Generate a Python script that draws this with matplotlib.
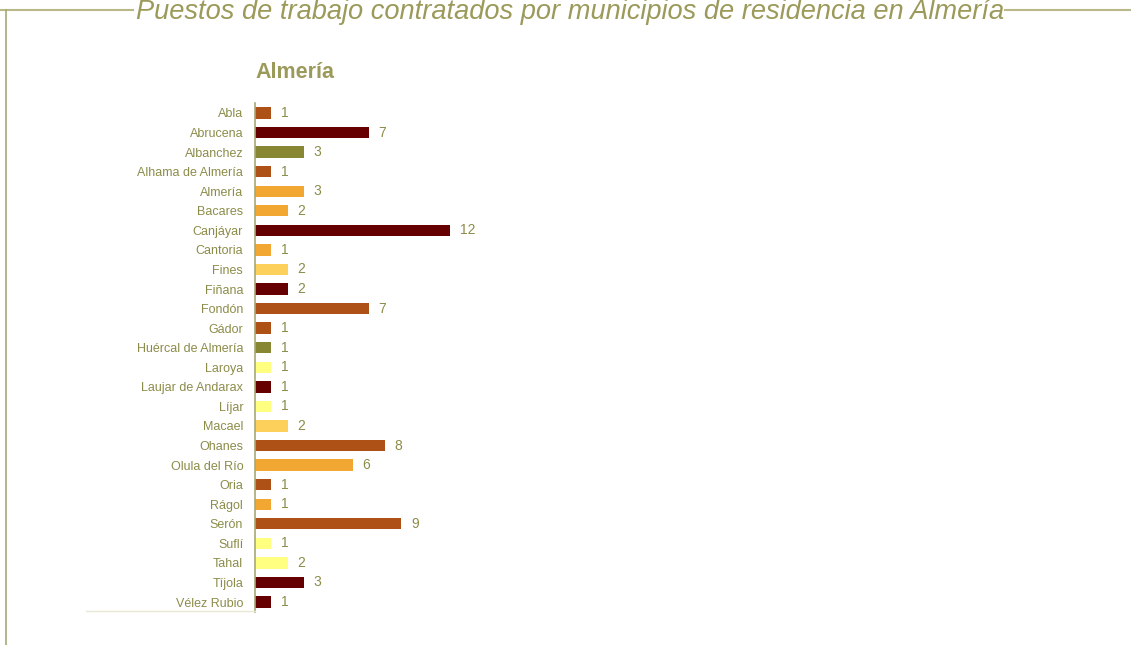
import matplotlib
matplotlib.use("Agg")
import matplotlib.pyplot as plt
from matplotlib.lines import Line2D

plt.rcParams["font.family"] = ["Liberation Sans", "DejaVu Sans"]

# ---- data ----
municipios = ["Abla", "Abrucena", "Albanchez", "Alhama de Almería", "Almería",
              "Bacares", "Canjáyar", "Cantoria", "Fines", "Fiñana", "Fondón",
              "Gádor", "Huércal de Almería", "Laroya", "Laujar de Andarax",
              "Líjar", "Macael", "Ohanes", "Olula del Río", "Oria", "Rágol",
              "Serón", "Suflí", "Tahal", "Tíjola", "Vélez Rubio"]
puestos = [1, 7, 3, 1, 3, 2, 12, 1, 2, 2, 7, 1, 1, 1, 1, 1, 2, 8, 6, 1, 1, 9, 1, 2, 3, 1]

# colour group of each bar
DARK_ORANGE = "#AE5116"
MAROON = "#660000"
OLIVE = "#868633"
ORANGE = "#F3A733"
LIGHT_ORANGE = "#FCD05B"
PALE_YELLOW = "#FFFF80"
colores = [DARK_ORANGE, MAROON, OLIVE, DARK_ORANGE, ORANGE, ORANGE, MAROON,
           ORANGE, LIGHT_ORANGE, MAROON, DARK_ORANGE, DARK_ORANGE, OLIVE,
           PALE_YELLOW, MAROON, PALE_YELLOW, LIGHT_ORANGE, DARK_ORANGE, ORANGE,
           DARK_ORANGE, ORANGE, DARK_ORANGE, PALE_YELLOW, PALE_YELLOW, MAROON,
           MAROON]

TEXT_COL = "#8C8C4A"
TITLE_COL = "#9C9A5A"
LINE_COL = "#B8B888"

W, H = 1131, 645
fig = plt.figure(figsize=(W / 100, H / 100), dpi=100)

# axes: left edge at x=255, rows from y=103 to y=612
ax_left, ax_width = 255 / W, 650 / W
ax_top, ax_bot = 103.2, 611.8
ax = fig.add_axes([ax_left, 1 - ax_bot / H, ax_width, (ax_bot - ax_top) / H])

y = list(range(len(municipios)))
ax.barh(y, puestos, height=0.58, color=colores)
ax.set_xlim(0, 650 / 16.25)
ax.set_ylim(len(municipios) - 0.5, -0.5)

ax.set_yticks(y)
ax.set_yticklabels(municipios, fontsize=9, color=TEXT_COL)
ax.tick_params(axis="y", length=0, pad=8.5)
ax.set_xticks([])
for s in ["top", "right", "bottom"]:
    ax.spines[s].set_visible(False)
ax.spines["left"].set_color("#A8A878")
ax.spines["left"].set_linewidth(1.2)

for yi, v in zip(y, puestos):
    ax.annotate(str(v), (v, yi), xytext=(7, 0), textcoords="offset points",
                ha="left", va="center", fontsize=10, color=TEXT_COL)

# subtitle
fig.text(255 / W, 1 - 73 / H, "Almería", fontsize=15.5, fontweight="bold",
         color=TITLE_COL, ha="left", va="center")

# main title with frame lines
fig.text(570 / W, 1 - 12 / H, "Puestos de trabajo contratados por municipios de residencia en Almería",
         fontsize=19.6, style="italic", color=TITLE_COL, ha="center", va="center")
fig.add_artist(Line2D([0, 133 / W], [1 - 10 / H, 1 - 10 / H], color=LINE_COL, lw=1.5,
                      transform=fig.transFigure))
fig.add_artist(Line2D([1005 / W, 1], [1 - 10 / H, 1 - 10 / H], color=LINE_COL, lw=1.5,
                      transform=fig.transFigure))
fig.add_artist(Line2D([6 / W, 6 / W], [1 - 10 / H, 0], color="#A8A878", lw=1.2,
                      transform=fig.transFigure))
# faint baseline under the category labels
fig.add_artist(Line2D([86 / W, 255 / W], [1 - 611 / H, 1 - 611 / H], color="#E8E8D4", lw=1,
                      transform=fig.transFigure))

fig.savefig("out.png", dpi=100)
